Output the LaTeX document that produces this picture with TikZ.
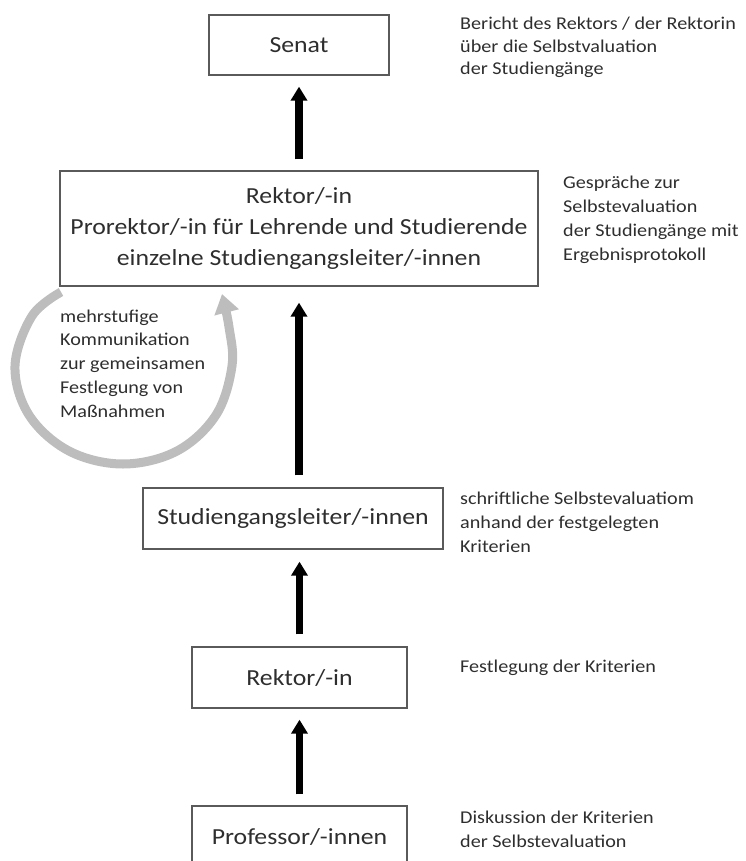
\documentclass[tikz,border=0pt]{standalone}
\usepackage{fontspec}
\setmainfont{Carlito}[FakeStretch=1.12]
\usetikzlibrary{arrows.meta}

\definecolor{boxgray}{HTML}{5A5A5A}
\definecolor{textgray}{HTML}{2E2E2E}
\definecolor{loopgray}{HTML}{BDBDBD}

\newcommand{\boxfont}{\fontsize{23}{31}\selectfont}
\newcommand{\sidefont}{\fontsize{18}{23.5}\selectfont}

\tikzset{
  stagebox/.style={draw=boxgray, line width=1.3pt, inner sep=0pt,
    minimum height=60pt, align=center, font=\boxfont, text=textgray},
  % anchored at the baseline of the last line
  sidenote/.style={anchor=base west, align=left, inner sep=0pt,
    font=\sidefont, text=textgray},
  uparrow/.style={-{Triangle[width=16pt,length=14pt]}, line width=7.5pt, black},
  looparrow/.style={-{Triangle[width=24pt,length=19pt]}, line width=9pt, loopgray}
}

\begin{document}
\begin{tikzpicture}[x=1pt,y=1pt]
  \useasboundingbox (0,0) rectangle (745,-861);
  \clip (0,0) rectangle (745,-861);

  % stages, from top to bottom
  \node[stagebox, minimum width=180pt] (senat) at (299,-45) {Senat};
  \node[stagebox, minimum width=478pt, minimum height=115pt] (leitung) at (299,-228.5)
    {Rektor/-in\\Prorektor/-in für Lehrende und Studierende\\einzelne Studiengangsleiter/-innen};
  \node[stagebox, minimum width=300pt, minimum height=61pt] (sgl) at (293,-518.5)
    {Studiengangsleiter/-innen};
  \node[stagebox, minimum width=215pt, minimum height=61pt] (rektor) at (299.5,-677.5)
    {Rektor/-in};
  \node[stagebox, minimum width=215pt, minimum height=62pt] (prof) at (299.5,-837)
    {Professor/-innen};

  % flow upwards
  \draw[uparrow] ([yshift=11pt]leitung.north) -- ([yshift=-11pt]senat.south);
  \draw[uparrow] ([yshift=12pt]leitung.south |- sgl.north) -- ([yshift=-16pt]leitung.south);
  \draw[uparrow] ([yshift=12pt]rektor.north) -- ([yshift=-12pt]rektor.north |- sgl.south);
  \draw[uparrow] ([yshift=11pt]prof.north) -- ([yshift=-11pt]rektor.south);

  % descriptions beside the stages
  \node[sidenote, font=\fontsize{18}{22.5}\selectfont] (n1) at (460,-75)
    {Bericht des Rektors / der Rektorin\\über die Selbstvaluation\\der Studiengänge};
  \node[sidenote, font=\fontsize{18}{24}\selectfont] (n2) at (563,-260)
    {Gespräche zur\\Selbstevaluation\\der Studiengänge mit\\Ergebnisprotokoll};
  \node[sidenote, font=\fontsize{18}{24}\selectfont] (n3) at (460,-552)
    {schriftliche Selbstevaluatiom\\anhand der festgelegten\\Kriterien};
  \node[sidenote] (n4) at (460,-672) {Festlegung der Kriterien};
  \node[sidenote, font=\fontsize{18}{24}\selectfont] (n5) at (460,-847)
    {Diskussion der Kriterien\\der Selbstevaluation};

  % feedback loop beneath the leadership box
  \draw[looparrow] plot[smooth, tension=0.6] coordinates {
    (61,-292) (32,-316) (15,-366) (29,-415) (69,-451) (123,-464)
    (177,-451) (216,-415) (232,-366) (229,-327) (222,-294)};
  \node[sidenote, font=\fontsize{18}{23.75}\selectfont] (loop) at (60,-417)
    {mehrstufige\\Kommunikation\\zur gemeinsamen\\Festlegung von\\Maßnahmen};
\end{tikzpicture}
\end{document}
